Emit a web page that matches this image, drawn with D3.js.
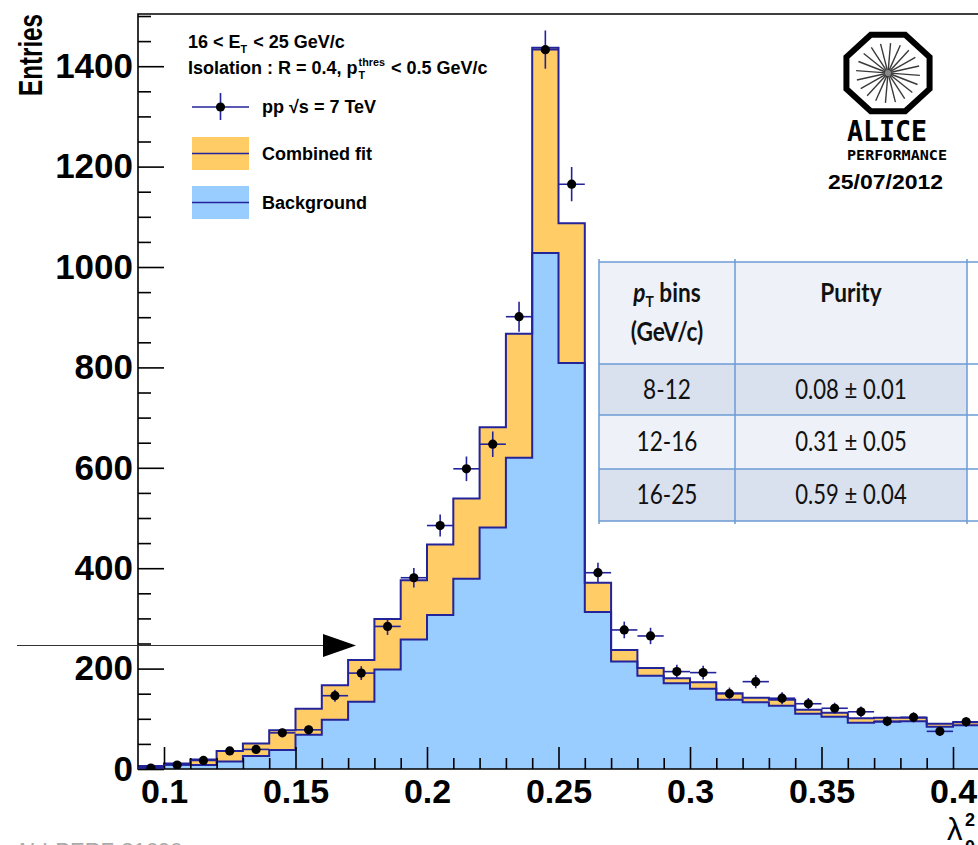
<!DOCTYPE html>
<html>
<head>
<meta charset="utf-8">
<script src="https://cdn.jsdelivr.net/npm/d3@7"></script>
<style>
  html, body { margin: 0; padding: 0; background: #fff; }
  svg { display: block; }
</style>
</head>
<body>
<svg id="chart" width="978" height="845"></svg>
<script>
// Shower-shape (lambda_0^2) distribution, 16 < E_T < 25 GeV/c, bins of width 0.01
const binLow = [0.09, 0.10, 0.11, 0.12, 0.13, 0.14, 0.15, 0.16, 0.17, 0.18, 0.19, 0.20,
                0.21, 0.22, 0.23, 0.24, 0.25, 0.26, 0.27, 0.28, 0.29, 0.30, 0.31, 0.32,
                0.33, 0.34, 0.35, 0.36, 0.37, 0.38, 0.39, 0.40];
const binWidth = 0.01;

// Combined fit (signal + background) per bin
const combinedFit = [6, 11, 19, 36, 51, 77, 120, 167, 217, 299, 376, 447,
                     539, 681, 867, 1437, 1087, 371, 237, 201, 181, 173, 151, 142,
                     138, 118, 112, 101, 102, 102, 90, 93];
// Background template per bin
const background = [4, 9, 8, 15, 26, 38, 68, 98, 134, 198, 258, 307,
                    379, 481, 620, 1028, 809, 313, 214, 186, 171, 160, 138, 133,
                    126, 110, 104, 92, 94, 95, 84, 87];
// pp data, sqrt(s) = 7 TeV, and statistical errors
const dataCounts = [2, 8, 17, 36, 39, 72, 78, 146, 191, 284, 381, 485,
                    598, 647, 901, 1433, 1165, 391, 277, 265, 194, 192, 150, 174,
                    141, 130, 121, 114, 95, 103, 75, 94];
const dataErrors = [1.4, 2.8, 4.1, 6.0, 6.2, 8.5, 8.8, 12.1, 13.8, 16.9, 19.5, 22.0,
                    24.5, 25.4, 30.0, 37.9, 34.1, 19.8, 16.6, 16.3, 13.9, 13.9, 12.2, 13.2,
                    11.9, 11.4, 11.0, 10.7, 9.7, 10.1, 8.7, 9.7];

const xMajorTicks = [0.1, 0.15, 0.2, 0.25, 0.3, 0.35, 0.4];
const yMajorTicks = [0, 200, 400, 600, 800, 1000, 1200, 1400];

// Purity table
const purityBins = ["8-12", "12-16", "16-25"];
const purityValues = ["0.08 \u00b1 0.01", "0.31 \u00b1 0.05", "0.59 \u00b1 0.04"];

const W = 978, H = 845;
const svg = d3.select("#chart");
const FONT = "'Liberation Sans', Arial, Helvetica, sans-serif";
const LINE = "#23239a";

const frameL = 138, frameT = 14, frameB = 769;
const x = d3.scaleLinear().domain([0.09, 0.42]).range([137.7, 1005.6]);
const y = d3.scaleLinear().domain([0, 1504]).range([frameB, frameT]);

svg.append("rect").attr("width", W).attr("height", H).attr("fill", "#fff");

svg.append("clipPath").attr("id", "plotClip")
  .append("rect").attr("x", frameL).attr("y", frameT)
  .attr("width", x(0.42) - frameL).attr("height", frameB - frameT);

const plot = svg.append("g").attr("clip-path", "url(#plotClip)");

function stepPoints(values) {
  const pts = [{ x: binLow[0], v: 0 }];
  values.forEach((v, i) => pts.push({ x: binLow[i], v }));
  const last = binLow[binLow.length - 1] + binWidth;
  pts.push({ x: last, v: values[values.length - 1] });
  pts.push({ x: last, v: 0 });
  return pts;
}

const area = d3.area().curve(d3.curveStepAfter)
  .x(d => x(d.x)).y0(y(0)).y1(d => y(d.v));
const line = d3.line().curve(d3.curveStepAfter)
  .x(d => x(d.x)).y(d => y(d.v));

// Combined fit (orange) and background (blue)
plot.append("path").datum(stepPoints(combinedFit)).attr("d", area).attr("fill", "#ffcc66");
plot.append("path").datum(stepPoints(background)).attr("d", area).attr("fill", "#99ccff");
plot.append("path").datum(stepPoints(combinedFit)).attr("d", line)
  .attr("fill", "none").attr("stroke", LINE).attr("stroke-width", 2);
plot.append("path").datum(stepPoints(background)).attr("d", line)
  .attr("fill", "none").attr("stroke", LINE).attr("stroke-width", 2);

// Axis ticks, drawn inside the frame
const gx = svg.append("g").attr("transform", `translate(0,${frameB})`);
gx.call(d3.axisBottom(x).tickValues(d3.range(10, 42).map(k => k / 100)
      .filter(v => !xMajorTicks.some(t => Math.abs(t - v) < 1e-9)))
    .tickSize(-11).tickFormat(""));
const gxMajor = svg.append("g").attr("transform", `translate(0,${frameB})`);
gxMajor.call(d3.axisBottom(x).tickValues(xMajorTicks).tickSize(-22).tickPadding(10)
    .tickFormat(d => String(+d.toFixed(2))));
[gx, gxMajor].forEach(g => {
  g.select(".domain").remove();
  g.selectAll(".tick line").attr("stroke", "#000").attr("stroke-width", 1.6);
});
gxMajor.selectAll(".tick text").attr("font-family", FONT).attr("font-weight", "bold")
  .attr("font-size", 34).attr("fill", "#000");

const gy = svg.append("g").attr("transform", `translate(${frameL},0)`);
gy.call(d3.axisLeft(y).tickValues(d3.range(50, 1501, 50).filter(v => v % 200 !== 0))
    .tickSize(-13).tickFormat(""));
const gyMajor = svg.append("g").attr("transform", `translate(${frameL},0)`);
gyMajor.call(d3.axisLeft(y).tickValues(yMajorTicks).tickSize(-26).tickPadding(5)
    .tickFormat(d3.format("d")));
[gy, gyMajor].forEach(g => {
  g.select(".domain").remove();
  g.selectAll(".tick line").attr("stroke", "#000").attr("stroke-width", 1.6);
});
gyMajor.selectAll(".tick text").attr("font-family", FONT).attr("font-weight", "bold")
  .attr("font-size", 35).attr("fill", "#000");

// Frame
svg.append("path")
  .attr("d", `M${W + 5},${frameT}H${frameL}V${frameB}H${W + 5}`)
  .attr("fill", "none").attr("stroke", "#000").attr("stroke-width", 1.6);

// Data points with error bars
const pts = svg.append("g").attr("clip-path", "url(#plotClip)");
dataCounts.forEach((c, i) => {
  const xc = x(binLow[i] + binWidth / 2);
  pts.append("line").attr("x1", x(binLow[i])).attr("x2", x(binLow[i] + binWidth))
    .attr("y1", y(c)).attr("y2", y(c)).attr("stroke", LINE).attr("stroke-width", 1.6);
  pts.append("line").attr("x1", xc).attr("x2", xc)
    .attr("y1", y(c - dataErrors[i])).attr("y2", y(c + dataErrors[i]))
    .attr("stroke", LINE).attr("stroke-width", 1.6);
  pts.append("circle").attr("cx", xc).attr("cy", y(c)).attr("r", 4.6).attr("fill", "#000");
});

// Axis titles
svg.append("text").attr("transform", "translate(42,14) rotate(-90)")
  .attr("text-anchor", "end").attr("font-family", FONT).attr("font-weight", "bold")
  .attr("font-size", 33).attr("textLength", 82).attr("lengthAdjust", "spacingAndGlyphs")
  .text("Entries");

svg.append("text").attr("x", 947).attr("y", 840)
  .attr("font-family", FONT).attr("font-size", 31).attr("fill", "#000").text("\u03bb");
svg.append("text").attr("x", 965).attr("y", 826).attr("font-family", FONT)
  .attr("font-weight", "bold").attr("font-size", 18).text("2");
svg.append("text").attr("x", 965).attr("y", 853).attr("font-family", FONT)
  .attr("font-weight", "bold").attr("font-size", 18).text("0");

// Legend and selection text
const legend = svg.append("g").attr("font-family", FONT).attr("font-weight", "bold")
  .attr("fill", "#000");
const LS = 18;

function richText(g, xx, yy, size, pieces) {
  let cx = xx;
  pieces.forEach(p => {
    if (p.kind === "n") {
      const t = g.append("text").attr("x", cx).attr("y", yy).attr("font-size", size)
        .attr("xml:space", "preserve").text(p.t);
      cx += t.node().getComputedTextLength();
    } else if (p.kind === "sub") {
      const t = g.append("text").attr("x", cx).attr("y", yy + 5).attr("font-size", size * 0.6).text(p.t);
      cx += t.node().getComputedTextLength() + 1;
    } else if (p.kind === "subsup") {
      const a = g.append("text").attr("x", cx + 1).attr("y", yy + 5).attr("font-size", size * 0.6).text(p.t);
      const b = g.append("text").attr("x", cx + 1).attr("y", yy - 8).attr("font-size", size * 0.6).text(p.sup);
      cx += Math.max(a.node().getComputedTextLength(), b.node().getComputedTextLength()) + 2;
    }
  });
}

richText(legend, 188, 48, LS, [
  { t: "16 < E", kind: "n" }, { t: "T", kind: "sub" }, { t: " < 25 GeV/c", kind: "n" }
]);
richText(legend, 188, 74, LS, [
  { t: "Isolation : R = 0.4, p", kind: "n" }, { t: "T", sup: "thres", kind: "subsup" },
  { t: " < 0.5 GeV/c", kind: "n" }
]);

// Data entry
legend.append("line").attr("x1", 192).attr("x2", 249).attr("y1", 107).attr("y2", 107)
  .attr("stroke", LINE).attr("stroke-width", 1.6);
legend.append("line").attr("x1", 220.5).attr("x2", 220.5).attr("y1", 93).attr("y2", 120)
  .attr("stroke", LINE).attr("stroke-width", 1.6);
legend.append("circle").attr("cx", 220.5).attr("cy", 107).attr("r", 4.6).attr("fill", "#000");
legend.append("text").attr("x", 262).attr("y", 113).attr("font-size", LS).text("pp \u221as = 7 TeV");

// Fit entries
[["#ffcc66", 137, "Combined fit"], ["#99ccff", 186, "Background"]].forEach(([col, top, label]) => {
  legend.append("rect").attr("x", 192).attr("y", top).attr("width", 57).attr("height", 33).attr("fill", col);
  legend.append("line").attr("x1", 192).attr("x2", 249).attr("y1", top + 16.5).attr("y2", top + 16.5)
    .attr("stroke", LINE).attr("stroke-width", 1.6);
  legend.append("text").attr("x", 262).attr("y", top + 23).attr("font-size", LS).text(label);
});

// ALICE performance logo
const logo = svg.append("g");
const cx0 = 888, cy0 = 73, R = 45;
const oct = d3.range(8).map(k => {
  const a = Math.PI / 8 + k * Math.PI / 4;
  return [cx0 + R * Math.cos(a), cy0 + R * 0.92 * Math.sin(a)];
});
logo.append("polygon").attr("points", oct.map(p => p.join(",")).join(" "))
  .attr("fill", "none").attr("stroke", "#000").attr("stroke-width", 6).attr("stroke-linejoin", "miter");
d3.range(20).forEach(k => {
  const a = k * Math.PI / 10 + 0.08;
  logo.append("line")
    .attr("x1", cx0 + 2 * Math.cos(a)).attr("y1", cy0 + 2 * Math.sin(a))
    .attr("x2", cx0 + 32 * Math.cos(a)).attr("y2", cy0 + 30 * Math.sin(a))
    .attr("stroke", "#3a3a3a").attr("stroke-width", 1.4);
});
logo.append("circle").attr("cx", cx0).attr("cy", cy0).attr("r", 3).attr("fill", "#888");
logo.append("text").attr("x", 847).attr("y", 141).attr("font-family", "'DejaVu Sans Mono', monospace")
  .attr("font-weight", "bold").attr("font-size", 29).attr("textLength", 80)
  .attr("lengthAdjust", "spacingAndGlyphs").text("ALICE");
logo.append("text").attr("x", 847).attr("y", 160).attr("font-family", "'DejaVu Sans Mono', monospace")
  .attr("font-weight", "bold").attr("font-size", 13.5).attr("textLength", 100)
  .attr("lengthAdjust", "spacingAndGlyphs").text("PERFORMANCE");
logo.append("text").attr("x", 828).attr("y", 189).attr("font-family", FONT).attr("font-weight", "bold")
  .attr("font-size", 20.5).attr("textLength", 115).attr("lengthAdjust", "spacingAndGlyphs").text("25/07/2012");

// Purity table
const tbl = svg.append("g");
const tL = 599, tM = 735, tR = 967;
const rows = [262, 364, 415, 469, 521];
const fills = ["#eef1f7", "#d9e0ee", "#eef1f7", "#d9e0ee"];
fills.forEach((f, i) => {
  tbl.append("rect").attr("x", tL).attr("y", rows[i]).attr("width", tR - tL)
    .attr("height", rows[i + 1] - rows[i]).attr("fill", f);
});
rows.forEach(r => tbl.append("line").attr("x1", tL).attr("x2", W).attr("y1", r).attr("y2", r)
  .attr("stroke", "#6b9bd6").attr("stroke-width", 1.5));
[tL, tM, tR].forEach(c => tbl.append("line").attr("x1", c).attr("x2", c).attr("y1", rows[0] - 3)
  .attr("y2", rows[4] + 3).attr("stroke", "#6b9bd6").attr("stroke-width", 1.5));

const TF = "Lato, 'Open Sans', sans-serif";
const c1 = (tL + tM) / 2, c2 = (tM + tR) / 2;
// Narrow the table text (Calibri-like proportions)
function narrow(t, f = 0.87) {
  const n = t.node().getComputedTextLength();
  t.attr("textLength", n * f).attr("lengthAdjust", "spacingAndGlyphs");
  return t;
}
const h1 = tbl.append("text").attr("x", c1).attr("y", 302).attr("text-anchor", "middle")
  .attr("font-family", TF).attr("font-weight", "bold").attr("font-size", 26).attr("fill", "#111");
h1.append("tspan").attr("font-style", "italic").text("p");
h1.append("tspan").attr("font-size", 16).attr("dy", 5).text("T");
h1.append("tspan").attr("dy", -5).text(" bins");
narrow(h1);
narrow(tbl.append("text").attr("x", c1).attr("y", 341).attr("text-anchor", "middle")
  .attr("font-family", TF).attr("font-weight", "bold").attr("font-size", 26).attr("fill", "#111")
  .text("(GeV/c)"));
narrow(tbl.append("text").attr("x", c2).attr("y", 302).attr("text-anchor", "middle")
  .attr("font-family", TF).attr("font-weight", "bold").attr("font-size", 26).attr("fill", "#111")
  .text("Purity"));
purityBins.forEach((b, i) => {
  const yb = (rows[i + 1] + rows[i + 2]) / 2 + 9;
  narrow(tbl.append("text").attr("x", c1).attr("y", yb).attr("text-anchor", "middle")
    .attr("font-family", TF).attr("font-size", 26).attr("fill", "#111").text(b));
  narrow(tbl.append("text").attr("x", c2).attr("y", yb).attr("text-anchor", "middle")
    .attr("font-family", TF).attr("font-size", 26).attr("fill", "#111").text(purityValues[i]), 0.85);
});

// Arrow marking the isolation region
svg.append("line").attr("x1", 17).attr("x2", 324).attr("y1", 645.5).attr("y2", 645.5)
  .attr("stroke", "#333").attr("stroke-width", 1.2);
svg.append("polygon").attr("points", "323,634 356,645.5 323,657").attr("fill", "#000");

// Figure identifier
svg.append("text").attr("x", 15).attr("y", 858).attr("font-family", FONT)
  .attr("font-size", 22).attr("fill", "#aaa").text("ALI-PERF-21690");
</script>
</body>
</html>
